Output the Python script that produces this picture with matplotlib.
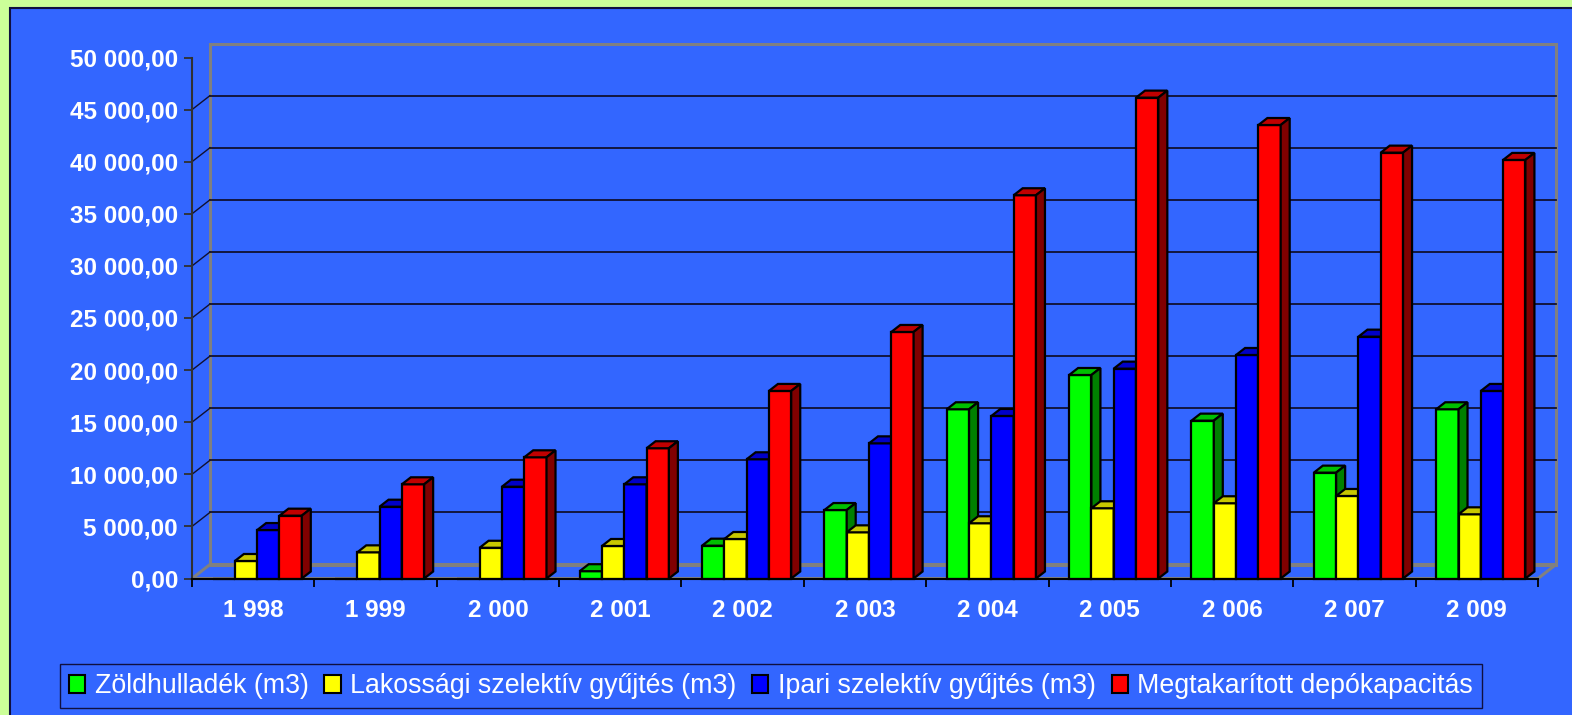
import matplotlib
matplotlib.use('Agg')
import matplotlib.pyplot as plt
from matplotlib.patches import Rectangle, Polygon, Patch
from matplotlib.ticker import FuncFormatter, FixedLocator, MultipleLocator

years = [1998, 1999, 2000, 2001, 2002, 2003, 2004, 2005, 2006, 2007, 2009]
zold = [0, 0, 0, 700, 3150, 6570, 16240, 19530, 15150, 10160, 16240]
lakossagi = [1680, 2510, 2950, 3120, 3790, 4430, 5300, 6740, 7220, 7920, 6160]
ipari = [4650, 6890, 8810, 9040, 11440, 12970, 15600, 20140, 21450, 23210, 18000]
megtakaritott = [6030, 9040, 11630, 12500, 18000, 23660, 36780, 46150, 43520, 40870, 40170]
labels = ['Zöldhulladék (m3)', 'Lakossági szelektív gyűjtés (m3)',
          'Ipari szelektív gyűjtés (m3)', 'Megtakarított depókapacitás']

series = [zold, lakossagi, ipari, megtakaritott]
# front, top, side colours
colors = [('#00FF00', '#00C000', '#008000'),
          ('#FFFF00', '#C8C800', '#808000'),
          ('#0000FF', '#0000C8', '#000080'),
          ('#FF0000', '#C00000', '#800000')]

W, H = 1572, 715
BG = '#3366FF'
plt.rcParams['font.family'] = ['Liberation Sans', 'DejaVu Sans']

fig = plt.figure(figsize=(W / 100, H / 100), dpi=100)
fig.patch.set_facecolor('#CCFF99')
panel = Rectangle((10 / W, -0.01), 1.01, 1 - 8 / H + 0.01,
                  transform=fig.transFigure, facecolor=BG,
                  edgecolor='#101040', lw=1.5, zorder=-5)
fig.patches.append(panel)

x0, x1, y0, y1 = 192, 1538, 57.5, 578.5
ax = fig.add_axes([x0 / W, 1 - y1 / H, (x1 - x0) / W, (y1 - y0) / H])
ax.set_facecolor('none')
n = len(years)
ymax = 50000
ax.set_xlim(-0.5, n - 0.5)
ax.set_ylim(0, ymax)

# depth offsets in data units (from pixel sizes)
pxx = n / (x1 - x0)
pxy = ymax / (y1 - y0)
dx, dy = 18 * pxx, 14 * pxy
bdx, bdy = 9 * pxx, 7 * pxy

# back wall and floor
ax.add_patch(Rectangle((-0.5 + dx, dy), n, ymax, facecolor='none', edgecolor='#808080',
                       lw=2.2, clip_on=False, zorder=1))
ax.add_patch(Polygon([(-0.5, 0), (n - 0.5, 0), (n - 0.5 + dx, dy), (-0.5 + dx, dy)],
                     closed=True, facecolor='none', edgecolor='#808080', lw=2.2,
                     clip_on=False, zorder=1))
for v in range(5000, ymax, 5000):
    ax.plot([-0.5 + dx, n - 0.5 + dx], [v + dy, v + dy], color='#101030', lw=1.3,
            clip_on=False, zorder=1.5)
    ax.plot([-0.5, -0.5 + dx], [v, v + dy], color='#101030', lw=1.0,
            clip_on=False, zorder=1.5)

# bars
w = 22.3 * pxx
shift = 4 * pxx
for i, vals in enumerate(series):
    front, top, side = colors[i]
    lefts = [k - 2 * w + i * w + shift for k in range(n)]
    ax.bar(lefts, vals, width=w, align='edge', color=front, edgecolor='black',
           lw=1.6, zorder=3, clip_on=False)
    for xl, v in zip(lefts, vals):
        if v <= 0:
            continue
        ax.add_patch(Polygon([(xl, v), (xl + w, v), (xl + w + bdx, v + bdy), (xl + bdx, v + bdy)],
                             closed=True, facecolor=top, edgecolor='black', lw=1.6,
                             zorder=3, clip_on=False))
        ax.add_patch(Polygon([(xl + w, 0), (xl + w + bdx, bdy), (xl + w + bdx, v + bdy), (xl + w, v)],
                             closed=True, facecolor=side, edgecolor='black', lw=1.6,
                             zorder=3, clip_on=False))

# axes styling
for s in ['top', 'right']:
    ax.spines[s].set_visible(False)
ax.spines['left'].set_color('#303030')
ax.spines['left'].set_linewidth(1.5)
ax.spines['bottom'].set_color('black')
ax.spines['bottom'].set_linewidth(1.5)
ax.spines['bottom'].set_zorder(4)

ax.yaxis.set_major_locator(MultipleLocator(5000))
ax.yaxis.set_major_formatter(FuncFormatter(
    lambda v, p: '{:,.2f}'.format(v).replace(',', ' ').replace('.', ',')))
ax.set_xticks(range(n))
ax.set_xticklabels(['{:,}'.format(y).replace(',', ' ') for y in years])
ax.xaxis.set_minor_locator(FixedLocator([k - 0.5 for k in range(n + 1)]))
ax.tick_params(axis='x', which='major', length=0, pad=15)
ax.tick_params(axis='x', which='minor', length=6, width=1.3, color='black')
ax.tick_params(axis='y', length=6, width=1.3, color='#303030', pad=4)
for t in ax.get_xticklabels() + ax.get_yticklabels():
    t.set_color('white')
    t.set_fontweight('bold')
    t.set_fontsize(17.5)

handles = [Patch(facecolor=c[0], edgecolor='black', lw=1.5) for c in colors]
leg = fig.legend(handles, labels, loc='center', ncol=4,
                 bbox_to_anchor=((58 + 1484) / 2 / W, 1 - 686 / H),
                 frameon=True, fancybox=False, facecolor=BG, edgecolor='#101040',
                 fontsize=19.3, handlelength=0.6, handleheight=0.65, handletextpad=0.35,
                 columnspacing=0.6, borderpad=0.35, borderaxespad=0, framealpha=1)
for t in leg.get_texts():
    t.set_color('white')

fig.savefig('out.png', dpi=100, facecolor=fig.get_facecolor())
